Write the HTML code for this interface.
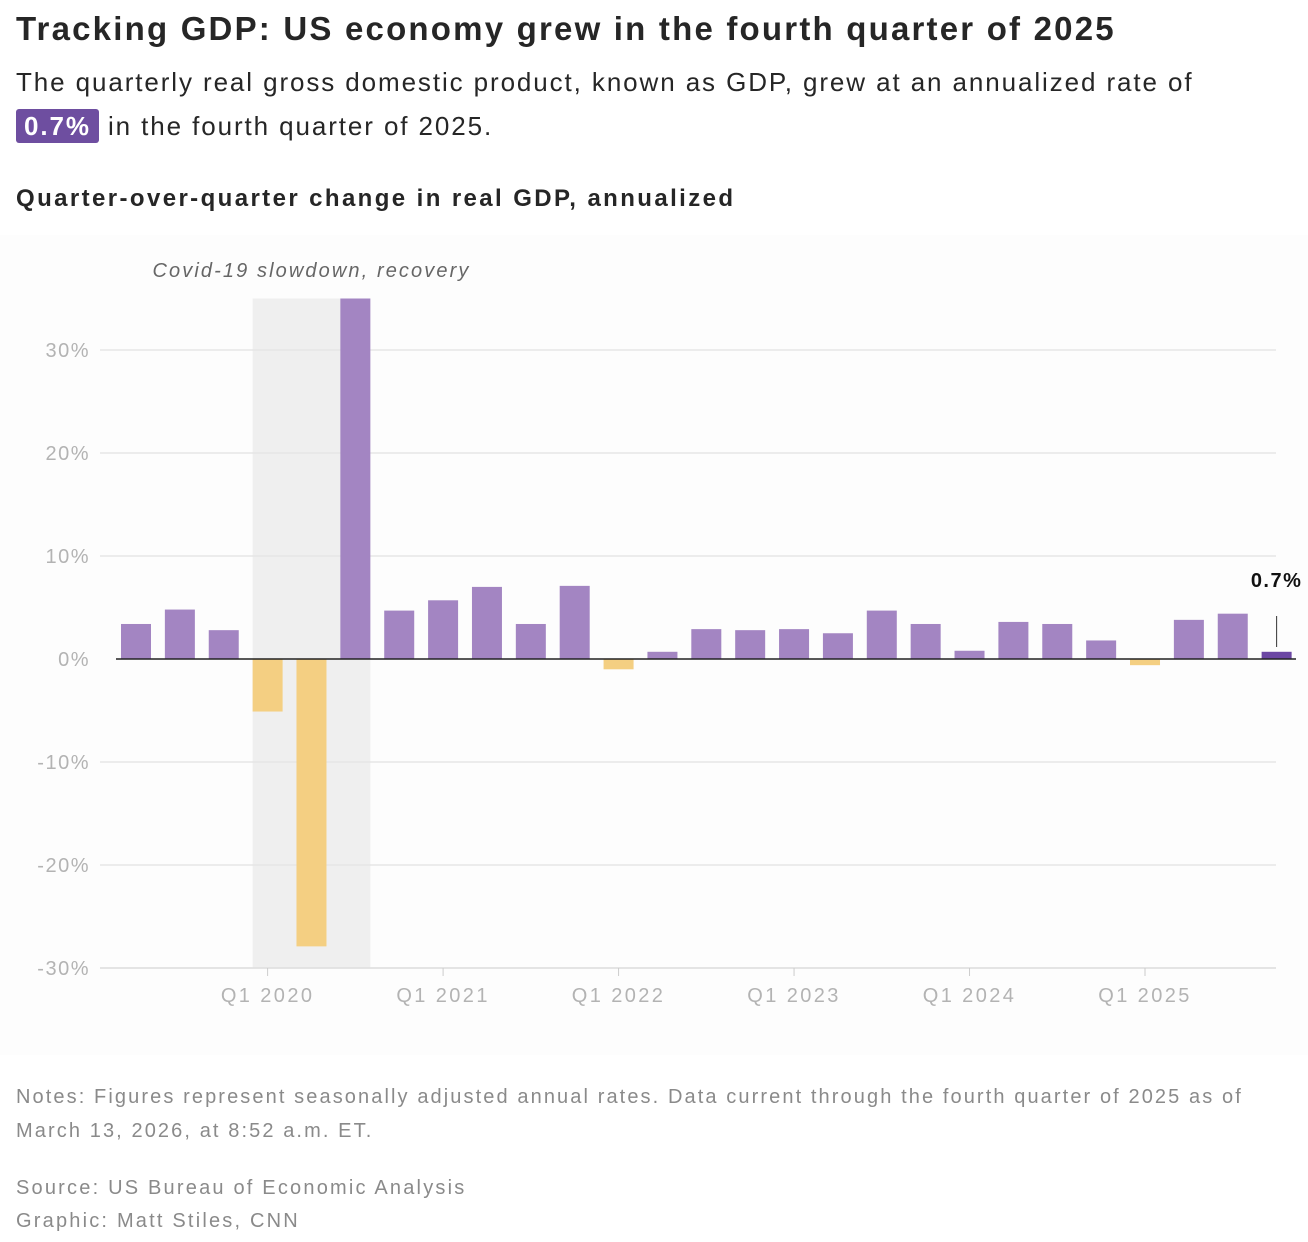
<!DOCTYPE html>
<html><head><meta charset="utf-8"><style>
body{margin:0;background:#fff;font-family:"Liberation Sans",sans-serif;width:1308px;height:1242px;overflow:hidden;position:relative}
.t{position:absolute;left:16px}
</style></head><body>
<div class="t" style="top:10px;font-size:33px;font-weight:bold;color:#262626;letter-spacing:2.2px">Tracking GDP: US economy grew in the fourth quarter of 2025</div>
<div class="t" style="top:60px;font-size:26px;line-height:44px;color:#262626;width:1290px;letter-spacing:1.9px">The quarterly real gross domestic product, known as GDP, grew at an annualized rate of<br><span style="background:#6e4ea0;color:#fff;font-weight:bold;padding:2px 8px;border-radius:3px">0.7%</span> in the fourth quarter of 2025.</div>
<div class="t" style="top:185px;font-size:24px;font-weight:bold;color:#262626;letter-spacing:2.4px">Quarter-over-quarter change in real GDP, annualized</div>
<svg id="chart" width="1308" height="1060" style="position:absolute;left:0;top:0" font-family="Liberation Sans, sans-serif"></svg>
<div class="t" style="top:1080px;font-size:20px;line-height:34px;color:#8a8a8a;width:1262px;letter-spacing:2.1px">Notes: Figures represent seasonally adjusted annual rates. Data current through the fourth quarter of 2025 as of March 13, 2026, at 8:52 a.m. ET.</div>
<div class="t" style="top:1172px;font-size:20px;line-height:33px;color:#8a8a8a;letter-spacing:2.2px">Source: US Bureau of Economic Analysis<br>Graphic: Matt Stiles, CNN</div>
<script>
const quarters=["Q2 2019","Q3 2019","Q4 2019","Q1 2020","Q2 2020","Q3 2020","Q4 2020","Q1 2021","Q2 2021","Q3 2021","Q4 2021","Q1 2022","Q2 2022","Q3 2022","Q4 2022","Q1 2023","Q2 2023","Q3 2023","Q4 2023","Q1 2024","Q2 2024","Q3 2024","Q4 2024","Q1 2025","Q2 2025","Q3 2025","Q4 2025"];
const values=[3.4,4.8,2.8,-5.1,-27.9,35.2,4.7,5.7,7.0,3.4,7.1,-1.0,0.7,2.9,2.8,2.9,2.5,4.7,3.4,0.8,3.6,3.4,1.8,-0.6,3.8,4.4,0.7];
const yTicks=[30,20,10,0,-10,-20,-30];
const xTickLabels=["Q1 2020","Q1 2021","Q1 2022","Q1 2023","Q1 2024","Q1 2025"];
const NS="http://www.w3.org/2000/svg";
const svg=document.getElementById('chart');
const y=v=>659-v*10.3;
const x=i=>136+i*43.87;
function mk(t,a){const e=document.createElementNS(NS,t);for(const k in a)e.setAttribute(k,a[k]);svg.appendChild(e);return e;}
let bg=mk('rect',{x:0,y:235,width:1308,height:820,fill:'#fdfdfd'});


const s0=quarters.indexOf("Q1 2020"),s1=quarters.indexOf("Q3 2020");
let sh=mk('rect',{x:x(s0)-15,y:y(35),width:x(s1)-x(s0)+30,height:y(-30)-y(35),fill:'#efefef'});


let st=mk('text',{x:(x(s0)+x(s1))/2,y:277,'text-anchor':'middle','font-size':20,'font-style':'italic',fill:'#666','letter-spacing':2.1});
st.textContent='Covid-19 slowdown, recovery';


yTicks.forEach(v=>{
  if(v!==0){let g=mk('line',{x1:100,x2:1276,y1:y(v),y2:y(v),stroke:'#e6e6e6','stroke-width':1.5});
  
  }
  let t=mk('text',{x:90,y:y(v)+7,'text-anchor':'end','font-size':20,fill:'#b3b3b3','letter-spacing':1.5});
  t.textContent=v+'%';
  
  
});
values.forEach((v,i)=>{
  const last=i===values.length-1;
  const top=Math.max(y(Math.min(v,35)),y(35));
  let r=mk('rect',{x:x(i)-15,y:v>=0?top:y(0),width:30,height:Math.abs((v>=0?top:y(v))-y(0)),fill:last?'#6b46a3':(v>=0?'#a385c2':'#f4cf82')});
  
  
});
let z=mk('line',{x1:116,x2:1296,y1:y(0),y2:y(0),stroke:'#222','stroke-width':1.5});


const li=values.length-1;
let ll=mk('line',{x1:x(li),x2:x(li),y1:616,y2:647,stroke:'#333','stroke-width':1});


let lt=mk('text',{x:x(li),y:587,'text-anchor':'middle','font-size':20,'font-weight':'bold',fill:'#111','letter-spacing':1.5});
lt.textContent=values[li]+'%';


let xa=mk('line',{x1:100,x2:1276,y1:y(-30),y2:y(-30),stroke:'#e0e0e0','stroke-width':1.5});


xTickLabels.forEach(q=>{
  const i=quarters.indexOf(q);
  let tk=mk('line',{x1:x(i),x2:x(i),y1:y(-30),y2:y(-30)+8,stroke:'#ccc'});
  
  
  let t=mk('text',{x:x(i),y:1002,'text-anchor':'middle','font-size':20,fill:'#b3b3b3','letter-spacing':2.4});
  t.textContent=q;
  
  
});
</script>
</body></html>
